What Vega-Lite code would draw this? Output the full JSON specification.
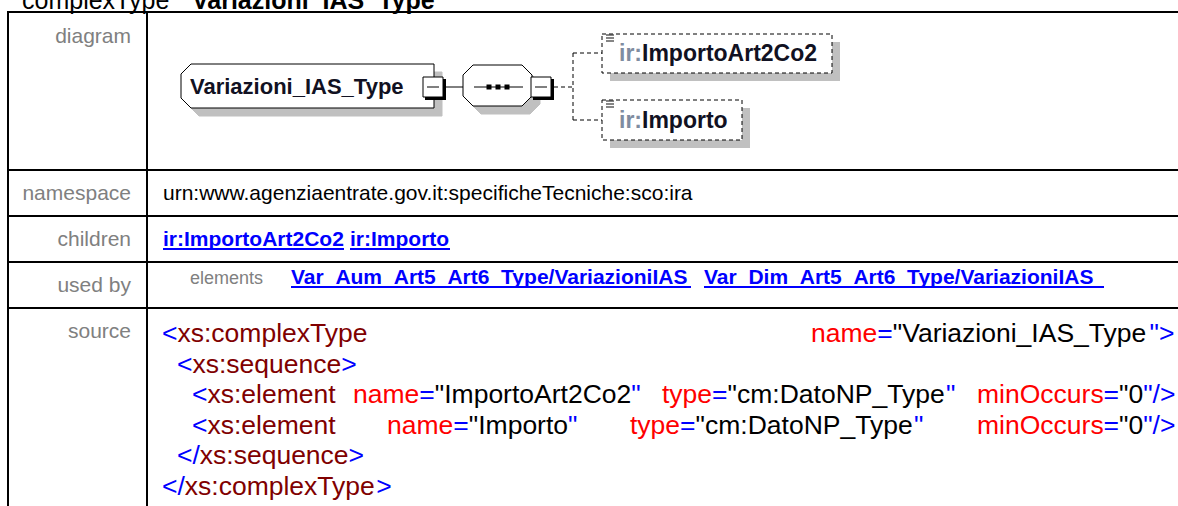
{
  "$schema": "https://vega.github.io/schema/vega-lite/v6.json",
  "width": 1178,
  "height": 506,
  "padding": 0,
  "autosize": {"type": "none"},
  "background": "white",
  "config": {"view": {"stroke": null}},
  "datasets": {
    "grid": [
      {"x": 7, "x2": 1178, "y": 12, "y2": 12},
      {"x": 7, "x2": 1178, "y": 170, "y2": 170},
      {"x": 7, "x2": 1178, "y": 216, "y2": 216},
      {"x": 7, "x2": 1178, "y": 262, "y2": 262},
      {"x": 7, "x2": 1178, "y": 308, "y2": 308},
      {"x": 8, "x2": 8, "y": 11, "y2": 506},
      {"x": 147, "x2": 147, "y": 11, "y2": 506}
    ],
    "poly": [
      {"g": "es", "k": "shadow", "i": 0, "x": 199, "y": 72},
      {"g": "es", "k": "shadow", "i": 1, "x": 442, "y": 72},
      {"g": "es", "k": "shadow", "i": 2, "x": 442, "y": 116},
      {"g": "es", "k": "shadow", "i": 3, "x": 199, "y": 116},
      {"g": "es", "k": "shadow", "i": 4, "x": 189, "y": 106},
      {"g": "es", "k": "shadow", "i": 5, "x": 189, "y": 82},
      {"g": "es", "k": "shadow", "i": 6, "x": 199, "y": 72},
      {"g": "os", "k": "shadow", "i": 0, "x": 481, "y": 73},
      {"g": "os", "k": "shadow", "i": 1, "x": 530, "y": 73},
      {"g": "os", "k": "shadow", "i": 2, "x": 540, "y": 83},
      {"g": "os", "k": "shadow", "i": 3, "x": 540, "y": 104},
      {"g": "os", "k": "shadow", "i": 4, "x": 530, "y": 114},
      {"g": "os", "k": "shadow", "i": 5, "x": 481, "y": 114},
      {"g": "os", "k": "shadow", "i": 6, "x": 471, "y": 104},
      {"g": "os", "k": "shadow", "i": 7, "x": 471, "y": 83},
      {"g": "os", "k": "shadow", "i": 8, "x": 481, "y": 73},
      {"g": "e", "k": "box", "i": 0, "x": 191, "y": 64},
      {"g": "e", "k": "box", "i": 1, "x": 434, "y": 64},
      {"g": "e", "k": "box", "i": 2, "x": 434, "y": 108},
      {"g": "e", "k": "box", "i": 3, "x": 191, "y": 108},
      {"g": "e", "k": "box", "i": 4, "x": 181, "y": 98},
      {"g": "e", "k": "box", "i": 5, "x": 181, "y": 74},
      {"g": "e", "k": "box", "i": 6, "x": 191, "y": 64},
      {"g": "o", "k": "box", "i": 0, "x": 473, "y": 65},
      {"g": "o", "k": "box", "i": 1, "x": 522, "y": 65},
      {"g": "o", "k": "box", "i": 2, "x": 532, "y": 75},
      {"g": "o", "k": "box", "i": 3, "x": 532, "y": 96},
      {"g": "o", "k": "box", "i": 4, "x": 522, "y": 106},
      {"g": "o", "k": "box", "i": 5, "x": 473, "y": 106},
      {"g": "o", "k": "box", "i": 6, "x": 463, "y": 96},
      {"g": "o", "k": "box", "i": 7, "x": 463, "y": 75},
      {"g": "o", "k": "box", "i": 8, "x": 473, "y": 65}
    ],
    "rects": [
      {"k": "shadow", "x": 610, "x2": 840, "y": 42, "y2": 81},
      {"k": "shadow", "x": 610, "x2": 750, "y": 108, "y2": 148},
      {"k": "dash", "x": 602, "x2": 832, "y": 34, "y2": 73},
      {"k": "dash", "x": 602, "x2": 742, "y": 100, "y2": 140},
      {"k": "mb", "x": 425, "x2": 446, "y": 79, "y2": 100},
      {"k": "mb", "x": 533, "x2": 554, "y": 79, "y2": 100},
      {"k": "mw", "x": 423, "x2": 443, "y": 77, "y2": 97},
      {"k": "mw", "x": 531, "x2": 551, "y": 77, "y2": 97}
    ],
    "drules": [
      {"k": "solid", "x": 446, "x2": 463, "y": 87, "y2": 87},
      {"k": "solid", "x": 474, "x2": 523, "y": 87, "y2": 87},
      {"k": "solid", "x": 427, "x2": 439, "y": 87, "y2": 87},
      {"k": "solid", "x": 535, "x2": 547, "y": 87, "y2": 87},
      {"k": "dash", "x": 554, "x2": 573, "y": 87, "y2": 87},
      {"k": "dash", "x": 573, "x2": 573, "y": 53, "y2": 120},
      {"k": "dash", "x": 573, "x2": 602, "y": 53, "y2": 53},
      {"k": "dash", "x": 573, "x2": 602, "y": 120, "y2": 120},
      {"k": "icon", "x": 606, "x2": 614, "y": 35, "y2": 35},
      {"k": "icon", "x": 606, "x2": 614, "y": 38, "y2": 38},
      {"k": "icon", "x": 606, "x2": 614, "y": 41, "y2": 41},
      {"k": "icon", "x": 606, "x2": 614, "y": 101, "y2": 101},
      {"k": "icon", "x": 606, "x2": 614, "y": 104, "y2": 104},
      {"k": "icon", "x": 606, "x2": 614, "y": 107, "y2": 107}
    ],
    "dots": [
      {"x": 489, "y": 87},
      {"x": 498, "y": 87},
      {"x": 507, "y": 87}
    ],
    "ul": [
      {"x": 163, "x2": 344, "y": 249, "y2": 249},
      {"x": 350, "x2": 450, "y": 249, "y2": 249},
      {"x": 291, "x2": 691, "y": 287, "y2": 287},
      {"x": 704, "x2": 1104, "y": 287, "y2": 287}
    ],
    "texts": [
      {"s": "hn", "t": "complexType", "x": 22, "y": 9},
      {"s": "hb", "t": "Variazioni_IAS_Type", "x": 192, "y": 9},
      {"s": "lab", "t": "diagram", "x": 131, "y": 43},
      {"s": "lab", "t": "namespace", "x": 131, "y": 200},
      {"s": "lab", "t": "children", "x": 131, "y": 246},
      {"s": "lab", "t": "used by", "x": 131, "y": 292},
      {"s": "lab", "t": "source", "x": 131, "y": 338},
      {"s": "ns", "t": "urn:www.agenziaentrate.gov.it:specificheTecniche:sco:ira", "x": 163, "y": 200},
      {"s": "lnk", "t": "ir:ImportoArt2Co2", "x": 163, "y": 246},
      {"s": "lnk", "t": "ir:Importo", "x": 350, "y": 246},
      {"s": "lnk", "t": "Var_Aum_Art5_Art6_Type/VariazioniIAS", "x": 291, "y": 284},
      {"s": "lnk", "t": "Var_Dim_Art5_Art6_Type/VariazioniIAS", "x": 704, "y": 284},
      {"s": "el", "t": "elements", "x": 190, "y": 284},
      {"s": "dt", "t": "Variazioni_IAS_Type", "x": 190, "y": 94},
      {"s": "dp", "t": "ir:", "x": 619, "y": 61},
      {"s": "dn", "t": "ImportoArt2Co2", "x": 642, "y": 61},
      {"s": "dp", "t": "ir:", "x": 619, "y": 128},
      {"s": "dn", "t": "Importo", "x": 642, "y": 128}
    ],
    "code": [
      {"s": "p", "t": "<", "x": 162, "y": 342},
      {"s": "tag", "t": "xs:complexType", "x": 177.5, "y": 342},
      {"s": "a", "t": "name", "x": 811, "y": 342},
      {"s": "p", "t": "=", "x": 877.3, "y": 342},
      {"s": "v", "t": "\"Variazioni_IAS_Type", "x": 892.8, "y": 342},
      {"s": "p", "t": "\">", "x": 1149.6, "y": 342},
      {"s": "p", "t": "<", "x": 177, "y": 372.5},
      {"s": "tag", "t": "xs:sequence", "x": 192.5, "y": 372.5},
      {"s": "p", "t": ">", "x": 341.3, "y": 372.5},
      {"s": "p", "t": "<", "x": 192, "y": 403},
      {"s": "tag", "t": "xs:element", "x": 207.5, "y": 403},
      {"s": "a", "t": "name", "x": 353, "y": 403},
      {"s": "p", "t": "=", "x": 419.3, "y": 403},
      {"s": "v", "t": "\"ImportoArt2Co2", "x": 434.8, "y": 403},
      {"s": "p", "t": "\"", "x": 631.2, "y": 403},
      {"s": "a", "t": "type", "x": 662, "y": 403},
      {"s": "p", "t": "=", "x": 712.1, "y": 403},
      {"s": "v", "t": "\"cm:DatoNP_Type", "x": 727.6, "y": 403},
      {"s": "p", "t": "\"", "x": 946.1, "y": 403},
      {"s": "a", "t": "minOccurs", "x": 977, "y": 403},
      {"s": "p", "t": "=", "x": 1103.6, "y": 403},
      {"s": "v", "t": "\"0", "x": 1119.1, "y": 403},
      {"s": "p", "t": "\"/>", "x": 1143.2, "y": 403},
      {"s": "p", "t": "<", "x": 192, "y": 433.5},
      {"s": "tag", "t": "xs:element", "x": 207.5, "y": 433.5},
      {"s": "a", "t": "name", "x": 387, "y": 433.5},
      {"s": "p", "t": "=", "x": 453.3, "y": 433.5},
      {"s": "v", "t": "\"Importo", "x": 468.8, "y": 433.5},
      {"s": "p", "t": "\"", "x": 568, "y": 433.5},
      {"s": "a", "t": "type", "x": 630, "y": 433.5},
      {"s": "p", "t": "=", "x": 680.1, "y": 433.5},
      {"s": "v", "t": "\"cm:DatoNP_Type", "x": 695.6, "y": 433.5},
      {"s": "p", "t": "\"", "x": 914.1, "y": 433.5},
      {"s": "a", "t": "minOccurs", "x": 977, "y": 433.5},
      {"s": "p", "t": "=", "x": 1103.6, "y": 433.5},
      {"s": "v", "t": "\"0", "x": 1119.1, "y": 433.5},
      {"s": "p", "t": "\"/>", "x": 1143.2, "y": 433.5},
      {"s": "p", "t": "</", "x": 177, "y": 464},
      {"s": "tag", "t": "xs:sequence", "x": 199.8, "y": 464},
      {"s": "p", "t": ">", "x": 348.6, "y": 464},
      {"s": "p", "t": "</", "x": 162, "y": 494.5},
      {"s": "tag", "t": "xs:complexType", "x": 184.8, "y": 494.5},
      {"s": "p", "t": ">", "x": 376.2, "y": 494.5}
    ]
  },
  "encoding": {
    "x": {"field": "x", "type": "quantitative", "scale": {"domain": [0, 1178], "nice": false, "zero": false}, "axis": null},
    "y": {"field": "y", "type": "quantitative", "scale": {"domain": [0, 506], "nice": false, "zero": false, "reverse": true}, "axis": null}
  },
  "layer": [
    {
      "data": {"name": "grid"},
      "mark": {"type": "rule", "color": "black", "strokeWidth": 2},
      "encoding": {"x2": {"field": "x2"}, "y2": {"field": "y2"}}
    },
    {
      "data": {"name": "poly"},
      "transform": [{"filter": "datum.k == 'shadow'"}],
      "mark": {"type": "line", "fill": "#c0c0c0", "stroke": "#c0c0c0", "strokeWidth": 1, "interpolate": "linear"},
      "encoding": {"detail": {"field": "g"}, "order": {"field": "i", "type": "quantitative"}}
    },
    {
      "data": {"name": "rects"},
      "transform": [{"filter": "datum.k == 'shadow'"}],
      "mark": {"type": "rect", "fill": "#c0c0c0"},
      "encoding": {"x2": {"field": "x2"}, "y2": {"field": "y2"}}
    },
    {
      "data": {"name": "poly"},
      "transform": [{"filter": "datum.k == 'box'"}],
      "mark": {"type": "line", "fill": "white", "stroke": "#000000", "strokeWidth": 1, "interpolate": "linear"},
      "encoding": {"detail": {"field": "g"}, "order": {"field": "i", "type": "quantitative"}}
    },
    {
      "data": {"name": "rects"},
      "transform": [{"filter": "datum.k == 'dash'"}],
      "mark": {"type": "rect", "fill": "white", "stroke": "#000000", "strokeWidth": 1, "strokeDash": [4, 3]},
      "encoding": {"x2": {"field": "x2"}, "y2": {"field": "y2"}}
    },
    {
      "data": {"name": "rects"},
      "transform": [{"filter": "datum.k == 'mb'"}],
      "mark": {"type": "rect", "fill": "#000000"},
      "encoding": {"x2": {"field": "x2"}, "y2": {"field": "y2"}}
    },
    {
      "data": {"name": "rects"},
      "transform": [{"filter": "datum.k == 'mw'"}],
      "mark": {"type": "rect", "fill": "white", "stroke": "#000000", "strokeWidth": 1},
      "encoding": {"x2": {"field": "x2"}, "y2": {"field": "y2"}}
    },
    {
      "data": {"name": "drules"},
      "transform": [{"filter": "datum.k == 'solid'"}],
      "mark": {"type": "rule", "color": "black", "strokeWidth": 1},
      "encoding": {"x2": {"field": "x2"}, "y2": {"field": "y2"}}
    },
    {
      "data": {"name": "drules"},
      "transform": [{"filter": "datum.k == 'dash'"}],
      "mark": {"type": "rule", "color": "black", "strokeWidth": 1, "strokeDash": [4, 3]},
      "encoding": {"x2": {"field": "x2"}, "y2": {"field": "y2"}}
    },
    {
      "data": {"name": "drules"},
      "transform": [{"filter": "datum.k == 'icon'"}],
      "mark": {"type": "rule", "color": "#333333", "strokeWidth": 1.2},
      "encoding": {"x2": {"field": "x2"}, "y2": {"field": "y2"}}
    },
    {
      "data": {"name": "dots"},
      "mark": {"type": "point", "shape": "square", "filled": true, "color": "black", "size": 25, "opacity": 1}
    },
    {
      "data": {"name": "ul"},
      "mark": {"type": "rule", "color": "#0000ff", "strokeWidth": 2},
      "encoding": {"x2": {"field": "x2"}, "y2": {"field": "y2"}}
    },
    {
      "data": {"name": "texts"},
      "transform": [{"filter": "datum.s == 'hn'"}],
      "mark": {"type": "text", "font": "Liberation Sans", "fontSize": 25, "color": "black", "align": "left", "baseline": "alphabetic"},
      "encoding": {"text": {"field": "t"}}
    },
    {
      "data": {"name": "texts"},
      "transform": [{"filter": "datum.s == 'hb'"}],
      "mark": {"type": "text", "font": "Liberation Sans", "fontSize": 25, "fontWeight": "bold", "color": "black", "align": "left", "baseline": "alphabetic"},
      "encoding": {"text": {"field": "t"}}
    },
    {
      "data": {"name": "texts"},
      "transform": [{"filter": "datum.s == 'lab'"}],
      "mark": {"type": "text", "font": "Liberation Sans", "fontSize": 21, "color": "#808080", "align": "right", "baseline": "alphabetic"},
      "encoding": {"text": {"field": "t"}}
    },
    {
      "data": {"name": "texts"},
      "transform": [{"filter": "datum.s == 'ns'"}],
      "mark": {"type": "text", "font": "Liberation Sans", "fontSize": 21, "color": "black", "align": "left", "baseline": "alphabetic"},
      "encoding": {"text": {"field": "t"}}
    },
    {
      "data": {"name": "texts"},
      "transform": [{"filter": "datum.s == 'lnk'"}],
      "mark": {"type": "text", "font": "Liberation Sans", "fontSize": 21, "fontWeight": "bold", "color": "#0000ff", "align": "left", "baseline": "alphabetic"},
      "encoding": {"text": {"field": "t"}}
    },
    {
      "data": {"name": "texts"},
      "transform": [{"filter": "datum.s == 'el'"}],
      "mark": {"type": "text", "font": "Liberation Sans", "fontSize": 18, "color": "#808080", "align": "left", "baseline": "alphabetic"},
      "encoding": {"text": {"field": "t"}}
    },
    {
      "data": {"name": "texts"},
      "transform": [{"filter": "datum.s == 'dt'"}],
      "mark": {"type": "text", "font": "Liberation Sans", "fontSize": 22, "fontWeight": "bold", "color": "#111122", "align": "left", "baseline": "alphabetic"},
      "encoding": {"text": {"field": "t"}}
    },
    {
      "data": {"name": "texts"},
      "transform": [{"filter": "datum.s == 'dp'"}],
      "mark": {"type": "text", "font": "Liberation Sans", "fontSize": 23, "fontWeight": "bold", "color": "#7f8ca0", "align": "left", "baseline": "alphabetic"},
      "encoding": {"text": {"field": "t"}}
    },
    {
      "data": {"name": "texts"},
      "transform": [{"filter": "datum.s == 'dn'"}],
      "mark": {"type": "text", "font": "Liberation Sans", "fontSize": 23, "fontWeight": "bold", "color": "#111122", "align": "left", "baseline": "alphabetic"},
      "encoding": {"text": {"field": "t"}}
    },
    {
      "data": {"name": "code"},
      "mark": {"type": "text", "font": "Liberation Sans", "fontSize": 26.5, "align": "left", "baseline": "alphabetic"},
      "encoding": {
        "text": {"field": "t"},
        "color": {"field": "s", "type": "nominal", "scale": {"domain": ["p", "tag", "a", "v"], "range": ["#0000ff", "#800000", "#ff0000", "#000000"]}, "legend": null}
      }
    }
  ]
}
